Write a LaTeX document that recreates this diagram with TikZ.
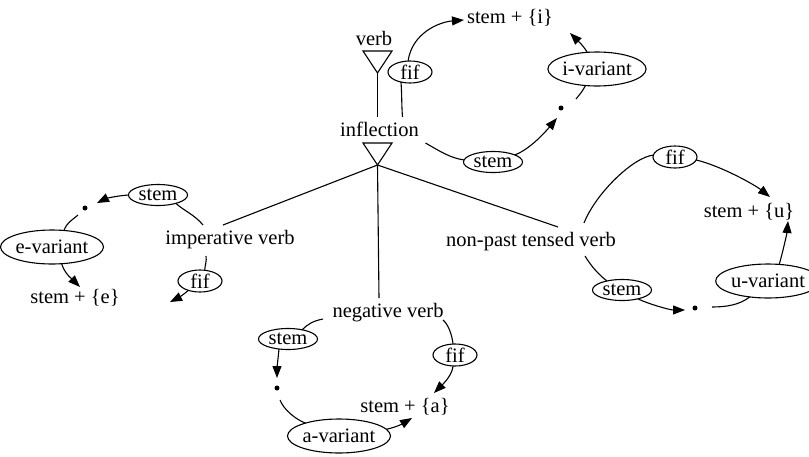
\documentclass[tikz,border=0pt]{standalone}
\usepackage{fontspec}
\setmainfont{Liberation Serif}
\usetikzlibrary{shapes.geometric,arrows.meta,calc}

\begin{document}
\begin{tikzpicture}[
  x=1pt, y=-1pt,
  line width=1.1pt,
  font=\fontsize{20.5}{24}\selectfont,
  txt/.style={inner sep=0pt},
  oval/.style={draw, ellipse, inner sep=0pt, outer sep=0pt},
  stemoval/.style={oval, minimum width=59pt, minimum height=21pt},
  fifoval/.style={oval, minimum width=44pt, minimum height=22pt},
  varoval/.style={oval, minimum width=87pt, minimum height=34pt},
  dotnode/.style={circle, fill, inner sep=0pt, minimum size=5pt},
  arr/.style={-{Triangle[length=12pt,width=9pt]}}
]
\useasboundingbox (0,0) rectangle (809,456);

% --- upper part: verb and inflection
\node[txt] (verb) at (374,38) {verb};
\coordinate (t1) at (377.5,73);
\draw (t1) -- +(-14.5,-22) -- +(14.5,-22) -- cycle;
\node[txt] (infl) at (379.5,129) {inflection};
\coordinate (t2) at (377.5,165);
\draw (t2) -- +(-14.5,-22) -- +(14.5,-22) -- cycle;

% --- i-variant cycle
\node[fifoval] (fif1) at (410,72) {fif};
\node[txt] (si) at (510,18) {stem + \{i\}};
\node[varoval] (iv) at (597,69) {i-variant};
\node[dotnode] (doti) at (561,108) {};
\node[stemoval] (stemi) at (493,162) {stem};

% --- e-variant cycle
\node[txt] (imp) at (230,240) {imperative verb};
\node[stemoval] (stemL) at (158,195) {stem};
\node[dotnode] (dotL) at (85,208) {};
\node[varoval] (ev) at (52,247) {e-variant};
\node[txt] (se) at (75,298) {stem + \{e\}};
\node[fifoval] (fifL) at (200,281) {fif};

% --- a-variant cycle
\node[txt] (neg) at (388,313) {negative verb};
\node[stemoval] (stemN) at (288,339) {stem};
\node[dotnode] (dotN) at (277,388) {};
\node[varoval] (av) at (339,436) {a-variant};
\node[txt] (sa) at (405,407) {stem + \{a\}};
\node[fifoval] (fifN) at (455,355) {fif};

% --- u-variant cycle
\node[txt] (npt) at (531,242) {non-past tensed verb};
\node[fifoval] (fifR) at (675,157) {fif};
\node[txt] (su) at (749,212) {stem + \{u\}};
\node[varoval] (uv) at (768,281) {u-variant};
\node[stemoval] (stemR) at (622,290) {stem};
\node[dotnode] (dotU) at (695,308) {};

% --- tree lines
\draw (t1) -- ($(infl)+(-2,-12)$);
\draw (t2) -- ($(imp)+(-7,-15)$);
\draw (t2) -- ($(neg)+(-9,-15)$);
\draw (t2) -- ($(npt)+(27,-15)$);

% --- i-variant edges
\draw ($(infl)+(23,-12)$) .. controls +(-1,-12) and +(1,12) .. (fif1.228);
\draw[arr] (fif1.100) .. controls +(4,-28) and +(-25,2) .. ($(si)+(-46,2)$);
\draw ($(infl)+(46,14)$) .. controls +(14,8) and +(-14,-2) .. (stemi.176);
\draw[arr] (stemi.18) .. controls +(16,-6) and +(-10,12) .. ($(doti)+(-4,10)$);
\draw (iv.235) .. controls +(-3,6) and +(4,-5) .. ($(doti)+(15,-9)$);
\draw[arr] (iv.120) .. controls +(-5,-8) and +(6,6) .. ($(si)+(60,15)$);

% --- e-variant edges
\draw ($(imp)+(-27,-15)$) .. controls +(-8,-10) and +(6,6) .. (stemL.-25);
\draw[arr] (stemL.180) .. controls +(-14,1) and +(8,-4) .. ($(dotL)+(12,-5)$);
\draw ($(dotL)+(-7,7)$) .. controls +(-7,6) and +(3,-8) .. (ev.54);
\draw[arr] (ev.-60) .. controls +(3,10) and +(-8,-8) .. ($(se)+(5,-11)$);
\draw ($(imp)+(-24,16)$) .. controls +(1,5) and +(0,-5) .. (fifL.66);
\draw[arr] (fifL.219) .. controls +(-6,5) and +(8,-4) .. ($(se)+(95,4)$);

% --- a-variant edges
\draw ($(neg)+(-65,6)$) .. controls +(-10,2) and +(6,-6) .. (stemN.33);
\draw[arr] (stemN.228) .. controls +(-1,10) and +(0,-10) .. ($(dotN)+(0,-10)$);
\draw ($(dotN)+(3,12)$) .. controls +(4,10) and +(-10,-4) .. (av.159);
\draw[arr] (av.8) .. controls +(12,-3) and +(-10,6) .. ($(sa)+(7,11)$);
\draw ($(neg)+(55,7)$) .. controls +(6,5) and +(-1,-8) .. (fifN.100);
\draw[arr] (fifN.260) .. controls +(-1,10) and +(8,-8) .. ($(sa)+(29,-14)$);

% --- u-variant edges
\draw ($(npt)+(53,-19)$) .. controls +(12,-30) and +(-20,2) .. (fifR.175);
\draw[arr] (fifR.-8) .. controls +(25,6) and +(-15,-12) .. ($(su)+(21,-15)$);
\draw[arr] (uv.56) .. controls +(3,-10) and +(-1,12) .. ($(su)+(39,9)$);
\draw ($(npt)+(54,14)$) .. controls +(6,10) and +(-8,-6) .. (stemR.149);
\draw[arr] (stemR.-29.5) .. controls +(10,5) and +(-15,0) .. ($(dotU)+(-10,2)$);
\draw (uv.221) .. controls +(-10,8) and +(14,0) .. ($(dotU)+(17,-1)$);
\end{tikzpicture}
\end{document}
